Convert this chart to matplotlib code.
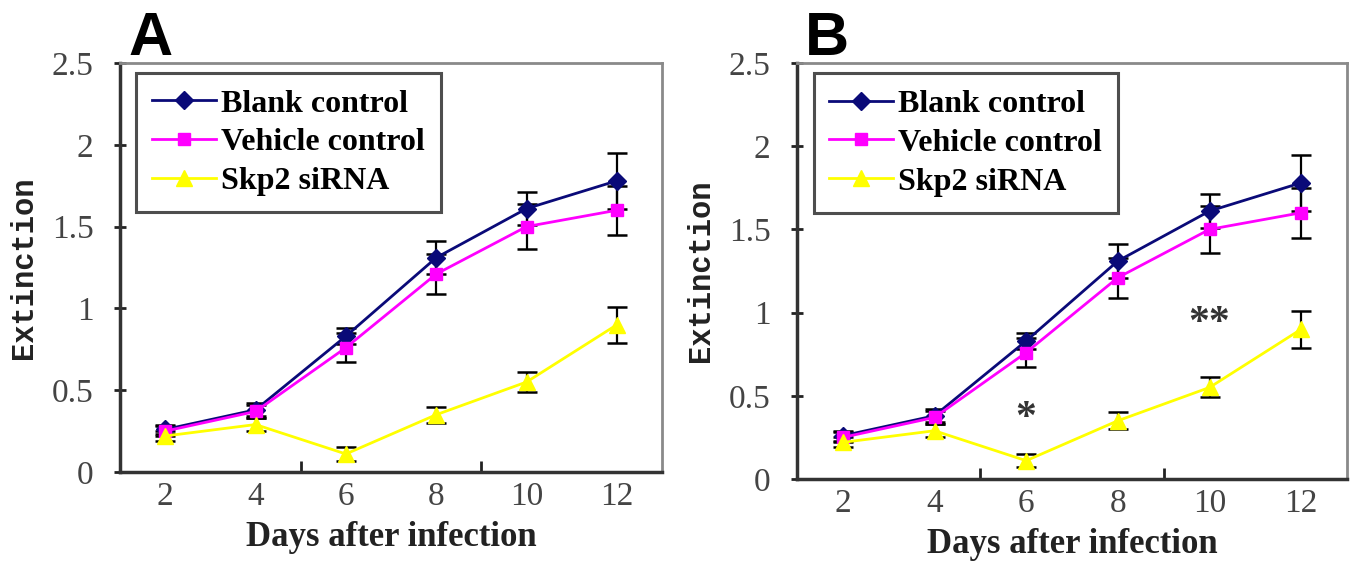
import matplotlib.pyplot as plt
import numpy as np

# data (same values in both panels)
days = ["2", "4", "6", "8", "10", "12"]
blank = [0.26, 0.38, 0.83, 1.31, 1.61, 1.78]
blank_err = [0.03, 0.04, 0.05, 0.10, 0.10, 0.17]
vehicle = [0.25, 0.37, 0.76, 1.21, 1.50, 1.60]
vehicle_err = [0.03, 0.04, 0.09, 0.12, 0.14, 0.15]
skp2 = [0.22, 0.29, 0.11, 0.35, 0.55, 0.90]
skp2_err = [0.03, 0.04, 0.04, 0.05, 0.06, 0.11]
series_names = ["Blank control", "Vehicle control", "Skp2 siRNA"]
yticks = [0, 0.5, 1, 1.5, 2, 2.5]
ytick_labels = ["0", "0.5", "1", "1.5", "2", "2.5"]

SERIF = "Liberation Serif"
MONO = "Liberation Mono"

fig = plt.figure(figsize=(13.55, 5.69), dpi=100)
ax_a = fig.add_axes([0.0886, 0.1705, 0.400, 0.7188])
ax_b = fig.add_axes([0.5882, 0.1582, 0.4059, 0.7311])

x = np.arange(len(days))


def draw_panel(ax, letter, stars):
    series = [
        (blank, blank_err, "#0a0a78", "D", 9),
        (vehicle, vehicle_err, "#ff00ff", "s", 9),
        (skp2, skp2_err, "#ffff00", "^", 11),
    ]
    lines = []
    for (vals, err, col, mk, ms), name in zip(series, series_names):
        eb = ax.errorbar(x, vals, yerr=err, color=col, marker=mk,
                         markersize=ms, linewidth=2, ecolor="black",
                         elinewidth=1.6, capsize=7, capthick=1.8,
                         label=name, zorder=3)
        lines.append(eb[0])

    ax.set_xlim(-0.5, 5.5)
    ax.set_ylim(0, 2.5)
    ax.set_yticks(yticks)
    ax.set_yticklabels(ytick_labels, fontfamily=SERIF, fontsize=24,
                       color="#444444")
    ax.set_xticks(x)
    ax.set_xticklabels(days, fontfamily=SERIF, fontsize=24, color="#444444")
    ax.set_xticks([1.5, 3.5], minor=True)
    ax.tick_params(axis="x", which="major", length=0, pad=7)
    ax.tick_params(axis="x", which="minor", direction="in", length=8,
                   width=2, color="#222222")
    ax.tick_params(axis="y", direction="inout", length=8, width=2,
                   color="#222222", pad=15)

    for side in ["left", "bottom"]:
        ax.spines[side].set_linewidth(2.5)
        ax.spines[side].set_color("#333333")
    for side in ["top", "right"]:
        ax.spines[side].set_linewidth(2)
        ax.spines[side].set_color("#8a8a8a")

    ax.set_xlabel("Days after infection", fontfamily=SERIF, fontsize=25,
                  fontweight="bold", color="#222222", labelpad=6)
    ax.set_ylabel("Extinction", fontfamily=MONO, fontsize=22,
                  fontweight="bold", color="#222222", labelpad=9)

    leg = ax.legend(handles=lines, labels=series_names, loc="upper left",
                    bbox_to_anchor=(0.03, 0.975),
                    prop={"family": SERIF, "size": 23, "weight": "bold"},
                    frameon=True, fancybox=False, handlelength=2.0,
                    handletextpad=0.15, labelspacing=0.3, borderpad=0.5,
                    borderaxespad=0)
    leg.get_frame().set_edgecolor("#222222")
    leg.get_frame().set_linewidth(2.2)

    for xi, yi, s in stars:
        ax.text(xi, yi, s, ha="center", va="center", fontfamily=SERIF,
                fontsize=30, fontweight="bold", color="#333333")

    ax.text(0.015, 1.02, letter, transform=ax.transAxes, fontsize=44,
            fontweight="bold", fontfamily="Liberation Sans", ha="left",
            va="baseline")


draw_panel(ax_a, "A", [])
draw_panel(ax_b, "B", [(2, 0.36, "*"), (4, 0.93, "**")])

fig.savefig("out.png", dpi=100)
